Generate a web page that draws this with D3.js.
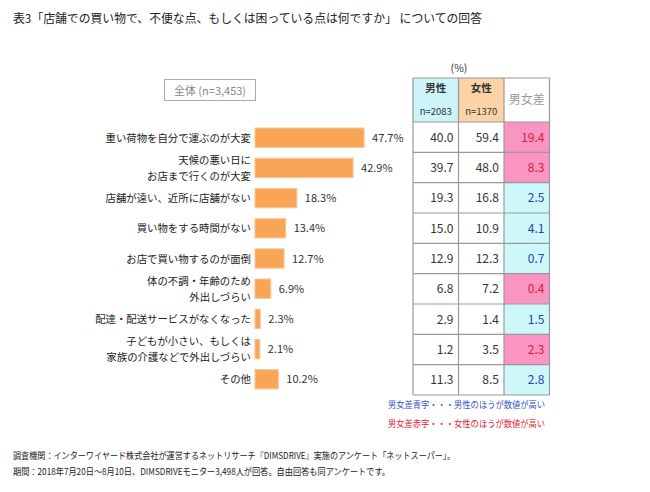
<!DOCTYPE html>
<html><head><meta charset="utf-8">
<script src="https://cdn.jsdelivr.net/npm/d3@7"></script>
<style>body{margin:0;background:#fff}svg{font-family:"Noto Sans CJK JP","Noto Sans",sans-serif}</style>
</head><body>
<svg id="c" width="650" height="492"></svg>
<script>
const categories = ["重い荷物を自分で運ぶのが大変", "天候の悪い日に\nお店まで行くのが大変", "店舗が遠い、近所に店舗がない", "買い物をする時間がない", "お店で買い物するのが面倒", "体の不調・年齢のため\n外出しづらい", "配達・配送サービスがなくなった", "子どもが小さい、もしくは\n家族の介護などで外出しづらい", "その他"];
const totalValues = [47.7, 42.9, 18.3, 13.4, 12.7, 6.9, 2.3, 2.1, 10.2];
const maleValues = [40.0, 39.7, 19.3, 15.0, 12.9, 6.8, 2.9, 1.2, 11.3];
const femaleValues = [59.4, 48.0, 16.8, 10.9, 12.3, 7.2, 1.4, 3.5, 8.5];
const diffValues = [19.4, 8.3, 2.5, 4.1, 0.7, 0.4, 1.5, 2.3, 2.8];
const tableHeaders = [["男性", "n=2083"], ["女性", "n=1370"], ["男女差"]];

const svg = d3.select("#c");
const cRed = "#d42040", cBlue = "#2b3fae";

svg.append("text").attr("x", 13).attr("y", 23).attr("font-size", 12.2).attr("fill", "#222")
  .attr("textLength", 469).attr("lengthAdjust", "spacingAndGlyphs")
  .text("表3「店舗での買い物で、不便な点、もしくは困っている点は何ですか」 についての回答");

// total box
svg.append("rect").attr("x", 164.5).attr("y", 79.5).attr("width", 91).attr("height", 21)
  .attr("fill", "#fff").attr("stroke", "#aaa");
svg.append("text").attr("x", 210).attr("y", 94.5).attr("text-anchor", "middle").attr("font-size", 11).attr("fill", "#888")
  .text("全体 (n=3,453)");

const y = d3.scaleBand().domain(categories).range([122, 395]).paddingInner(0.36).paddingOuter(0.2);
const x = d3.scaleLinear().domain([0, 50]).range([255, 369.3]);

const rows = categories.map((c, i) => ({c, t: totalValues[i], m: maleValues[i], f: femaleValues[i], d: diffValues[i]}));

svg.append("g").selectAll("rect").data(rows).join("rect")
  .attr("x", x(0)).attr("y", d => y(d.c)).attr("width", d => x(d.t) - x(0)).attr("height", y.bandwidth())
  .attr("fill", "#f8a558").attr("stroke", "#fbc48e").attr("stroke-width", 1);

svg.append("g").selectAll("text").data(rows).join("text")
  .attr("x", d => x(d.t) + 8).attr("y", d => y(d.c) + y.bandwidth() / 2 + 4)
  .attr("font-size", 11).attr("fill", "#333").text(d => d.t.toFixed(1) + "%");

const lab = svg.append("g").selectAll("text").data(rows).join("text")
  .attr("text-anchor", "end").attr("font-size", 10.4).attr("fill", "#222");
lab.each(function(d) {
  const lines = d.c.split("\n");
  const cy = y(d.c) + y.bandwidth() / 2;
  d3.select(this).selectAll("tspan").data(lines).join("tspan")
    .attr("x", 251).attr("y", (l, j) => cy + 4 + (j - (lines.length - 1) / 2) * 16).text(l => l);
});

// table
const cols = [413, 458.5, 504, 549.5];
const rowTop = 122, rowBot = 395, headTop = 78;
const ry = d3.scaleBand().domain(categories).range([rowTop, rowBot]);
const hdrFill = ["#cdf5f9", "#fbd3a6", "#fff"];
hdrFill.forEach((f, j) => svg.append("rect").attr("x", cols[j]).attr("y", headTop).attr("width", cols[j+1]-cols[j]).attr("height", rowTop-headTop).attr("fill", f));

const diffFill = rows.map(d => d.f > d.m ? "#f995c0" : "#cdf7f9");
svg.append("g").selectAll("rect").data(rows).join("rect")
  .attr("x", cols[2]).attr("y", d => ry(d.c)).attr("width", cols[3]-cols[2]).attr("height", ry.bandwidth())
  .attr("fill", (d, i) => diffFill[i]);

const grid = svg.append("g").attr("stroke", "#999").attr("stroke-width", 1.2);
cols.forEach(cx => grid.append("line").attr("x1", cx).attr("x2", cx).attr("y1", headTop).attr("y2", rowBot));
[headTop, ...categories.map(c => ry(c)), rowBot].forEach(yy => grid.append("line").attr("x1", cols[0]).attr("x2", cols[3]).attr("y1", yy).attr("y2", yy));

svg.append("text").attr("x", 459).attr("y", 72).attr("text-anchor", "middle").attr("font-size", 10.5).attr("fill", "#333").text("(%)");
tableHeaders.forEach((h, j) => {
  const cx = (cols[j] + cols[j+1]) / 2;
  if (h.length === 2) {
    svg.append("text").attr("x", cx).attr("y", 92).attr("text-anchor", "middle").attr("font-size", 10.5).attr("font-weight", "bold").attr("fill", "#333").text(h[0]);
    svg.append("text").attr("x", cx).attr("y", 115).attr("text-anchor", "middle").attr("font-size", 9.5).attr("fill", "#333").text(h[1]);
  } else {
    svg.append("text").attr("x", cx).attr("y", 104).attr("text-anchor", "middle").attr("font-size", 12).attr("fill", "#999").text(h[0]);
  }
});

const cellText = (vals, j, colorFn) => svg.append("g").selectAll("text").data(rows).join("text")
  .attr("x", cols[j+1] - 5).attr("y", d => ry(d.c) + ry.bandwidth() / 2 + 4.5)
  .attr("text-anchor", "end").attr("font-size", 12).attr("fill", colorFn)
  .text((d, i) => vals[i].toFixed(1));
cellText(maleValues, 0, () => "#333");
cellText(femaleValues, 1, () => "#333");
cellText(diffValues, 2, d => d.f > d.m ? cRed : cBlue);

svg.append("text").attr("x", 388).attr("y", 408).attr("font-size", 9).attr("fill", "#3355cc")
  .attr("textLength", 157).attr("lengthAdjust", "spacingAndGlyphs").text("男女差青字・・・男性のほうが数値が高い");
svg.append("text").attr("x", 388).attr("y", 427).attr("font-size", 9).attr("fill", "#dd2233")
  .attr("textLength", 157).attr("lengthAdjust", "spacingAndGlyphs").text("男女差赤字・・・女性のほうが数値が高い");

svg.append("text").attr("x", 13).attr("y", 459).attr("font-size", 9.2).attr("fill", "#222")
  .attr("textLength", 442).attr("lengthAdjust", "spacingAndGlyphs")
  .text("調査機関：インターワイヤード株式会社が運営するネットリサーチ『DIMSDRIVE』実施のアンケート「ネットスーパー」。");
svg.append("text").attr("x", 13).attr("y", 475).attr("font-size", 9.2).attr("fill", "#222")
  .attr("textLength", 377).attr("lengthAdjust", "spacingAndGlyphs")
  .text("期間：2018年7月20日～8月10日、DIMSDRIVEモニター3,498人が回答。自由回答も同アンケートです。");
</script>
</body></html>
